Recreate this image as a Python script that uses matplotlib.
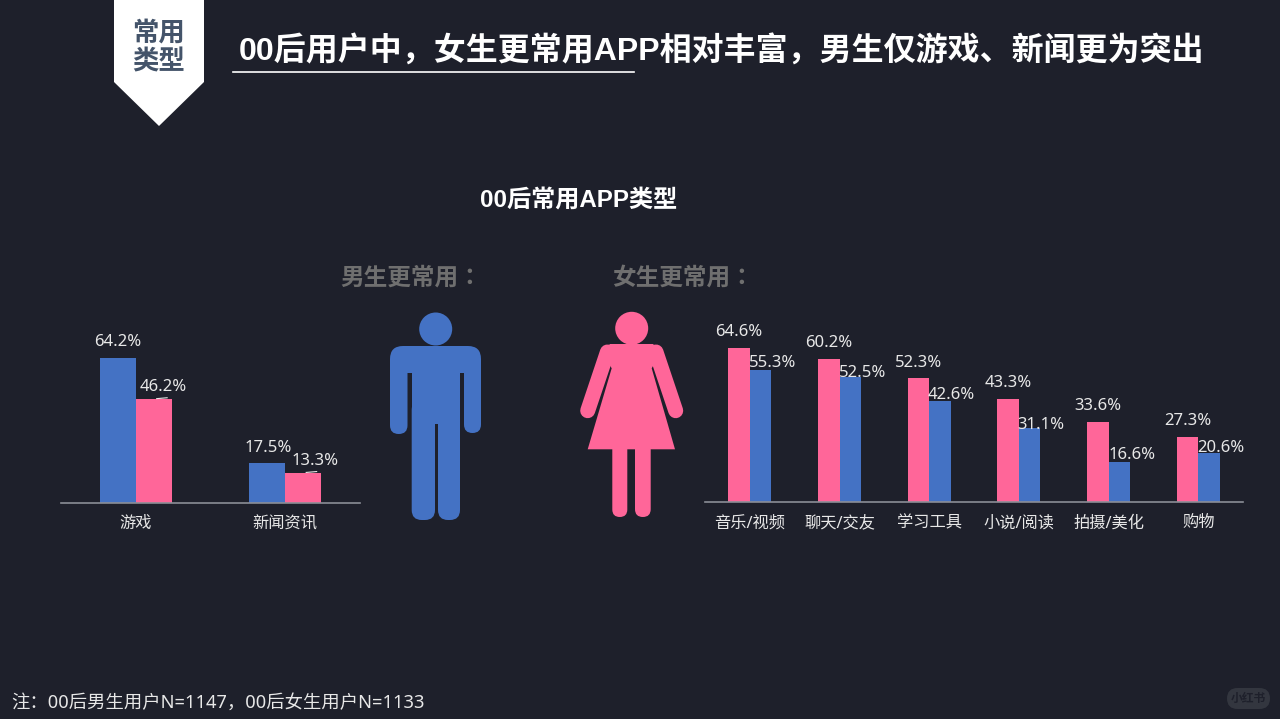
import matplotlib
matplotlib.use('Agg')
import matplotlib.pyplot as plt
from matplotlib.patches import Polygon, Circle, FancyBboxPatch, Rectangle

plt.rcParams['font.family'] = ['Noto Sans', 'Noto Sans CJK SC', 'DejaVu Sans']
# Noto Sans has no bold here
BOLD_FONT = ['Liberation Sans', 'Noto Sans CJK SC', 'DejaVu Sans']
# the TC font centres the colon like the source
HEAD_FONT = ['Liberation Sans', 'Noto Sans CJK TC', 'DejaVu Sans']

W, H = 1280, 719
BG = '#1e202b'
BLUE = '#4472c4'
PINK = '#ff6699'
LIGHT = '#e8e8e8'

# boys use more
left_cats = ['游戏', '新闻资讯']
left_boys = [64.2, 17.5]
left_girls = [46.2, 13.3]

# girls use more
right_cats = ['音乐/视频', '聊天/交友', '学习工具', '小说/阅读', '拍摄/美化', '购物']
right_girls = [64.6, 60.2, 52.3, 43.3, 33.6, 27.3]
right_boys = [55.3, 52.5, 42.6, 31.1, 16.6, 20.6]

# label nudges in px
left_boy_dx = [0, 1]
left_boy_dy = [16, 15]
left_girl_dx = [10, 12]
left_girl_dy = [12, 12]
right_girl_dy = [16, 16, 15, 16, 16, 16]
right_boy_dx = [12, 12, 11, 11, 13, 12]
right_boy_dy = [7, 4, 6, 3, 7, 5]


def px_axes(x0, x1, base, top):
    return fig.add_axes([x0 / W, 1 - base / H, (x1 - x0) / W, (base - top) / H], facecolor='none')


def style_chart(ax, cats):
    for s in ['top', 'left', 'right']:
        ax.spines[s].set_visible(False)
    ax.spines['bottom'].set_color('#8b8e96')
    ax.spines['bottom'].set_linewidth(1.2)
    ax.set_yticks([])
    ax.set_xticks(range(len(cats)))
    ax.set_xticklabels(cats, color=LIGHT, fontsize=11.7)
    ax.tick_params(axis='x', length=0, pad=10)
    ax.set_xlim(-0.5, len(cats) - 0.5)


def label(ax, x, y, val, dx, dy):
    ax.annotate('%.1f%%' % val, (x, y), xytext=(dx * 0.72, dy * 0.72), textcoords='offset points',
                ha='center', va='center', color=LIGHT, fontsize=12)


fig = plt.figure(figsize=(W / 100, H / 100), dpi=100, facecolor=BG)

# left chart
ax1 = px_axes(61, 360, 502.5, 300)
ax1.set_ylim(0, 202.5 / 2.243)
bw = 0.24
for i in range(len(left_cats)):
    ax1.bar(i - bw / 2, left_boys[i], bw, color=BLUE)
    ax1.bar(i + bw / 2, left_girls[i], bw, color=PINK)
    label(ax1, i - bw / 2, left_boys[i], left_boys[i], left_boy_dx[i], left_boy_dy[i])
    label(ax1, i + bw / 2, left_girls[i], left_girls[i], left_girl_dx[i], left_girl_dy[i])
    # tiny leader lines left over in the source
    ax1.plot([i + bw / 2 + 0.02, i + bw / 2 + 0.09], [left_girls[i] + 0.1, left_girls[i] + 0.5],
             color=LIGHT, lw=0.8)
style_chart(ax1, left_cats)

# right chart
ax2 = px_axes(705, 1243, 501.5, 300)
ax2.set_ylim(0, 201.5 / 2.37)
bw = 0.24
for i in range(len(right_cats)):
    ax2.bar(i - bw / 2, right_girls[i], bw, color=PINK)
    ax2.bar(i + bw / 2, right_boys[i], bw, color=BLUE)
    label(ax2, i - bw / 2, right_girls[i], right_girls[i], 0, right_girl_dy[i])
    label(ax2, i + bw / 2, right_boys[i], right_boys[i], right_boy_dx[i], right_boy_dy[i])
style_chart(ax2, right_cats)

# overlay in pixel coords for header, text and the icons
bg = fig.add_axes([0, 0, 1, 1], facecolor='none')
bg.set_xlim(0, W)
bg.set_ylim(H, 0)
bg.axis('off')

bg.add_patch(Polygon([(114, 0), (204, 0), (204, 82), (159, 126), (114, 82)], color='white', lw=0))
bg.text(159, 33, '常用', color='#44546a', fontsize=19, fontweight='bold', ha='center', va='center', family=BOLD_FONT)
bg.text(159, 62, '类型', color='#44546a', fontsize=19, fontweight='bold', ha='center', va='center', family=BOLD_FONT)
bg.text(239, 52, '00后用户中\uff0c女生更常用APP相对丰富\uff0c男生仅游戏、新闻更为突出', color='white',
        fontsize=23, fontweight='bold', ha='left', va='center', family=BOLD_FONT)
bg.plot([233, 634], [72, 72], color='white', lw=1.2)
bg.text(579, 200, '00后常用APP类型', color='white', fontsize=17.4, fontweight='bold', ha='center', va='center',
        family=BOLD_FONT)
bg.text(340, 278, '男生更常用\uff1a', color='#6f6f6f', fontsize=17, fontweight='bold', ha='left', va='center',
        family=HEAD_FONT)
bg.text(612, 278, '女生更常用\uff1a', color='#6f6f6f', fontsize=17, fontweight='bold', ha='left', va='center',
        family=HEAD_FONT)
bg.text(11, 703, '注\uff1a00后男生用户N=1147\uff0c00后女生用户N=1133', color=LIGHT, fontsize=13.2, ha='left',
        va='center')


def rbox(x0, y0, x1, y1, r, color):
    bg.add_patch(FancyBboxPatch((x0 + r, y0 + r), x1 - x0 - 2 * r, y1 - y0 - 2 * r,
                                boxstyle='round,pad=%f,rounding_size=%f' % (r, r), color=color, lw=0))


# man
bg.add_patch(Circle((435.7, 329), 16.5, color=BLUE, lw=0))
rbox(390, 346, 481, 373, 13, BLUE)
bg.add_patch(Rectangle((390, 360), 91, 13, color=BLUE, lw=0))
rbox(390, 360, 407.5, 434, 8.7, BLUE)
rbox(464, 360, 481, 433, 8.5, BLUE)
bg.add_patch(Rectangle((411.7, 346), 48.3, 78, color=BLUE, lw=0))
rbox(411.7, 400, 435, 520, 10, BLUE)
rbox(438, 400, 460, 520, 10, BLUE)

# woman
bg.add_patch(Circle((631.7, 328.3), 16.5, color=PINK, lw=0))
bg.add_patch(Polygon([(602, 352), (610, 344), (653, 344), (661, 352), (651.7, 368.3), (675, 449.3),
                      (587.7, 449.3), (611.7, 368.3)], color=PINK, lw=0))
for x_a, x_b in [(607.4, 587.7), (656, 675.7)]:
    bg.plot([x_a, x_b], [352, 410.7], color=PINK, lw=15 * 0.72, solid_capstyle='round')
rbox(612.3, 440, 627.3, 517, 7.5, PINK)
rbox(635, 440, 650.7, 517, 7.8, PINK)

# watermark
rbox(1227, 688, 1270, 709, 10.5, '#33363f')
bg.text(1248.5, 698.5, '小红书', color='#1e202b', fontsize=8.5, fontweight='bold', ha='center', va='center')

fig.savefig('out.png', dpi=100, facecolor=BG)
